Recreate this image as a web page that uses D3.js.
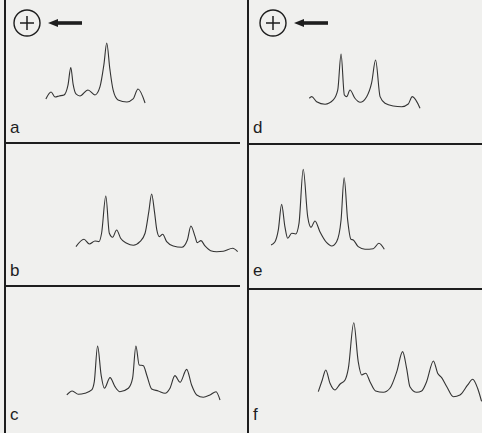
<!DOCTYPE html>
<html>
<head>
<meta charset="utf-8">
<script src="https://cdn.jsdelivr.net/npm/d3@7"></script>
<style>
  html, body { margin: 0; padding: 0; background: #f0f0ee; }
  svg { display: block; }
</style>
</head>
<body>
<svg></svg>
<script>
const width = 482;
const height = 433;
const colLeft = [5, 248];
const colWidth = 235;
const rowTop = [0, 143, 287];
const rowHeight = 143;

// densitometer scans: [migration (0-100), absorbance (0-100)]
const traceA = [[17.4,30.8],[19.6,35.7],[21.3,32.2],[23.0,32.9],[25.1,33.6],[26.8,40.5],[28.0,52.7],[29.0,41],[30.2,34.3],[31.9,32.9],[35.3,37.1],[38.3,33.6],[40.4,39.2],[42.1,55],[43.3,69.9],[44.6,52],[46.0,37.1],[48.1,30.1],[51.9,28.7],[54.5,30.8],[56.6,37.8],[59.6,28.0]];
const traceB = [[30.2,27.5],[33.6,32.7],[35.9,29.4],[38.3,31.5],[40.0,31.0],[41.1,36.9],[42.9,62.9],[44.4,36.9],[45.8,34.1],[47.5,39.2],[49.2,33.4],[51.8,29.9],[54.6,28.5],[57.4,31.0],[59.6,36.9],[61.2,52],[62.4,64.3],[63.6,52],[64.6,39.2],[65.7,34.5],[67.1,36.2],[68.8,31.0],[71.6,28.0],[75.2,27.1],[77.6,32.2],[79.1,42.0],[80.9,34.5],[81.8,30.3],[83.4,31.7],[85.1,28.0],[87.5,24.7],[90.1,24.0],[92.9,24.3],[96.9,26.4],[99.0,24.0]];
const traceC = [[26.3,24.5],[28.6,27.3],[31.2,25.0],[34.0,25.7],[36.9,28.0],[38.0,33.8],[39.4,58.7],[40.9,38.5],[42.3,29.2],[44.7,36.6],[46.8,30.3],[48.9,26.8],[52.5,29.2],[54.3,36.2],[55.7,58.7],[57.1,45.5],[58.9,45.0],[60.3,38.5],[62.4,28.7],[65.2,27.3],[68.1,25.7],[70.2,29.2],[72.3,38.0],[74.5,33.4],[77.3,42.4],[79.4,31.5],[81.6,24.5],[84.4,22.9],[87.2,24.5],[89.8,26.8],[91.5,21.0]];
const traceD = [[26.1,31.3],[27.1,32.4],[29.2,28.9],[32.8,27.1],[36.3,30.1],[38.2,37.1],[39.6,62.2],[41.0,33.6],[42.0,32.4],[43.4,37.1],[45.5,31.3],[47.7,28.5],[50.5,32.4],[52.6,42.0],[54.3,58.0],[56.2,32.4],[58.3,27.8],[61.8,25.9],[65.4,25.4],[68.2,27.3],[69.9,32.4],[73.2,24.3]];
const traceE = [[9.8,28.7],[11.5,31.0],[12.9,39.2],[14.3,57.1],[15.7,41.5],[16.9,33.4],[18.6,36.9],[20.3,36.4],[21.7,43.8],[23.5,81.6],[25.4,48.5],[26.8,41.0],[28.5,45.5],[30.6,38.0],[33.5,30.3],[35.6,28.0],[37.7,31.0],[39.6,46.2],[40.9,75.7],[42.4,46.2],[43.8,32.7],[44.8,32.2],[46.9,27.5],[49.8,25.7],[53.3,26.1],[55.7,29.9],[58.0,25.7]];
const traceF = [[29.9,26.8],[31.6,35.0],[33.1,42.0],[34.9,32.7],[37.0,28.0],[39.1,32.0],[41.3,35.0],[42.7,43.1],[45.0,75.0],[46.9,47.8],[48.4,38.5],[50.1,39.7],[51.9,33.8],[54.3,27.3],[57.6,26.4],[60.4,29.2],[63.3,40.8],[65.8,54.8],[67.5,43.1],[68.9,30.3],[71.8,26.4],[73.9,27.3],[76.0,33.8],[78.9,48.3],[80.7,39.7],[82.4,36.6],[84.6,30.3],[87.4,23.3],[90.2,24.5],[93.5,31.5],[95.6,35.5],[97.7,29.2],[99.4,20.0]];

const panelLabels = ["a", "b", "c", "d", "e", "f"];
const traces = [traceA, traceB, traceC, traceD, traceE, traceF];

const svg = d3.select("svg")
    .attr("width", width)
    .attr("height", height);

svg.append("rect")
    .attr("width", width)
    .attr("height", height)
    .attr("fill", "#f0f0ee");

// frame
const frame = svg.append("g")
    .attr("stroke", "#1e1e1e")
    .attr("fill", "none");

frame.append("line").attr("x1", 5).attr("x2", 5).attr("y1", 0).attr("y2", height).attr("stroke-width", 2);
frame.append("line").attr("x1", 248).attr("x2", 248).attr("y1", 0).attr("y2", height).attr("stroke-width", 2);
frame.append("line").attr("x1", 5).attr("x2", 240).attr("y1", 143).attr("y2", 143).attr("stroke-width", 1.8);
frame.append("line").attr("x1", 5).attr("x2", 240).attr("y1", 286).attr("y2", 286).attr("stroke-width", 1.8);
frame.append("line").attr("x1", 248).attr("x2", width).attr("y1", 144).attr("y2", 144).attr("stroke-width", 1.8);
frame.append("line").attr("x1", 248).attr("x2", width).attr("y1", 289).attr("y2", 289).attr("stroke-width", 1.8);

traces.forEach((trace, i) => {
    const col = Math.floor(i / 3);
    const row = i % 3;

    const x = d3.scaleLinear()
        .domain([0, 100])
        .range([colLeft[col], colLeft[col] + colWidth]);

    const y = d3.scaleLinear()
        .domain([0, 100])
        .range([rowTop[row] + rowHeight, rowTop[row]]);

    const line = d3.line()
        .x(d => x(d[0]))
        .y(d => y(d[1]))
        .curve(d3.curveMonotoneX);

    svg.append("path")
        .datum(trace)
        .attr("d", line)
        .attr("fill", "none")
        .attr("stroke", "#333")
        .attr("stroke-width", 1.1)
        .attr("stroke-linejoin", "round");

    svg.append("text")
        .attr("x", colLeft[col] + 5)
        .attr("y", rowTop[row] + 133)
        .style("font-family", "'Liberation Sans', Arial, sans-serif")
        .style("font-size", "17px")
        .attr("fill", "#1e1e1e")
        .text(panelLabels[i]);
});

// anode marker and direction arrow on the top panels
const markerX = [27, 273];
markerX.forEach(cx => {
    const g = svg.append("g")
        .attr("stroke", "#1e1e1e")
        .attr("fill", "none");

    const cy = 23;

    g.append("circle")
        .attr("cx", cx)
        .attr("cy", cy)
        .attr("r", 13)
        .attr("stroke-width", 1.4);

    g.append("line").attr("x1", cx - 7).attr("x2", cx + 7).attr("y1", cy).attr("y2", cy).attr("stroke-width", 1.5);
    g.append("line").attr("x1", cx).attr("x2", cx).attr("y1", cy - 7).attr("y2", cy + 7).attr("stroke-width", 1.5);

    g.append("line")
        .attr("x1", cx + 28)
        .attr("x2", cx + 55)
        .attr("y1", cy)
        .attr("y2", cy)
        .attr("stroke-width", 3.6);

    g.append("path")
        .attr("d", `M${cx + 21},${cy} L${cx + 31},${cy - 4} L${cx + 31},${cy + 4} Z`)
        .attr("fill", "#1e1e1e")
        .attr("stroke", "none");
});
</script>
</body>
</html>
